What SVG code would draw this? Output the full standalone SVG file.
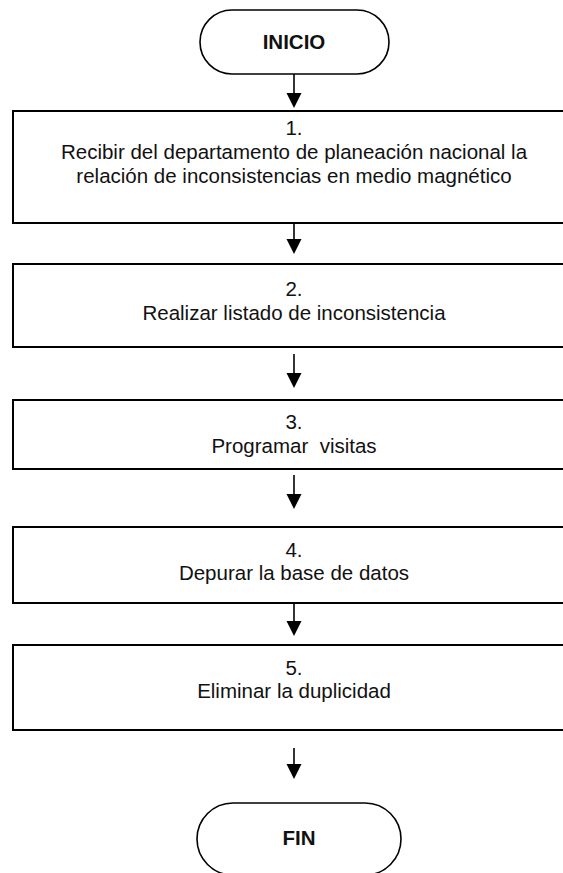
<svg xmlns="http://www.w3.org/2000/svg" width="563" height="873" viewBox="0 0 563 873">
<defs>
<style>
.box{fill:#fff;stroke:#000;stroke-width:2}
.term{fill:#fff;stroke:#000;stroke-width:1.6}
.t{font-family:"Liberation Sans",Arial,sans-serif;font-size:20.5px;fill:#111;text-anchor:middle}
.b{font-family:"Liberation Sans",Arial,sans-serif;font-size:20.5px;font-weight:bold;fill:#111;text-anchor:middle}
.c{stroke:#000;stroke-width:1.6;fill:none;marker-end:url(#ah)}
</style>
<marker id="ah" markerUnits="userSpaceOnUse" markerWidth="16" markerHeight="16" refX="0" refY="8" orient="auto" viewBox="0 0 16 16" overflow="visible">
<path d="M0,0.5 L15,8 L0,15.5 Z" fill="#000"/>
</marker>
</defs>
<rect width="563" height="873" fill="#fff"/>
<g id="connectors">
<path class="c" d="M294,74 V93"/>
<path class="c" d="M294,223 V239"/>
<path class="c" d="M294,354 V373"/>
<path class="c" d="M294,475 V494"/>
<path class="c" d="M294,603 V621"/>
<path class="c" d="M294,748 V764"/>
</g>
<g id="inicio">
<rect class="term" x="200" y="10" width="189" height="64" rx="32" ry="32"/>
<text class="b" x="294" y="49">INICIO</text>
</g>
<g id="step1">
<rect class="box" x="13" y="111" width="562" height="112"/>
<text class="t" x="294" y="135">1.</text>
<text class="t" x="294" y="159">Recibir del departamento de planeación nacional la</text>
<text class="t" x="294" y="183">relación de inconsistencias en medio magnético</text>
</g>
<g id="step2">
<rect class="box" x="13" y="264" width="562" height="83"/>
<text class="t" x="294" y="296">2.</text>
<text class="t" x="294" y="320">Realizar listado de inconsistencia</text>
</g>
<g id="step3">
<rect class="box" x="13" y="400" width="562" height="69"/>
<text class="t" x="294" y="429">3.</text>
<text class="t" x="294" y="453" xml:space="preserve">Programar  visitas</text>
</g>
<g id="step4">
<rect class="box" x="13" y="527" width="562" height="76"/>
<text class="t" x="294" y="557">4.</text>
<text class="t" x="294" y="580">Depurar la base de datos</text>
</g>
<g id="step5">
<rect class="box" x="13" y="645" width="562" height="85"/>
<text class="t" x="294" y="675">5.</text>
<text class="t" x="294" y="698">Eliminar la duplicidad</text>
</g>
<g id="fin">
<rect class="term" x="197" y="803" width="204" height="72" rx="36" ry="36"/>
<text class="b" x="299" y="845">FIN</text>
</g>
</svg>
